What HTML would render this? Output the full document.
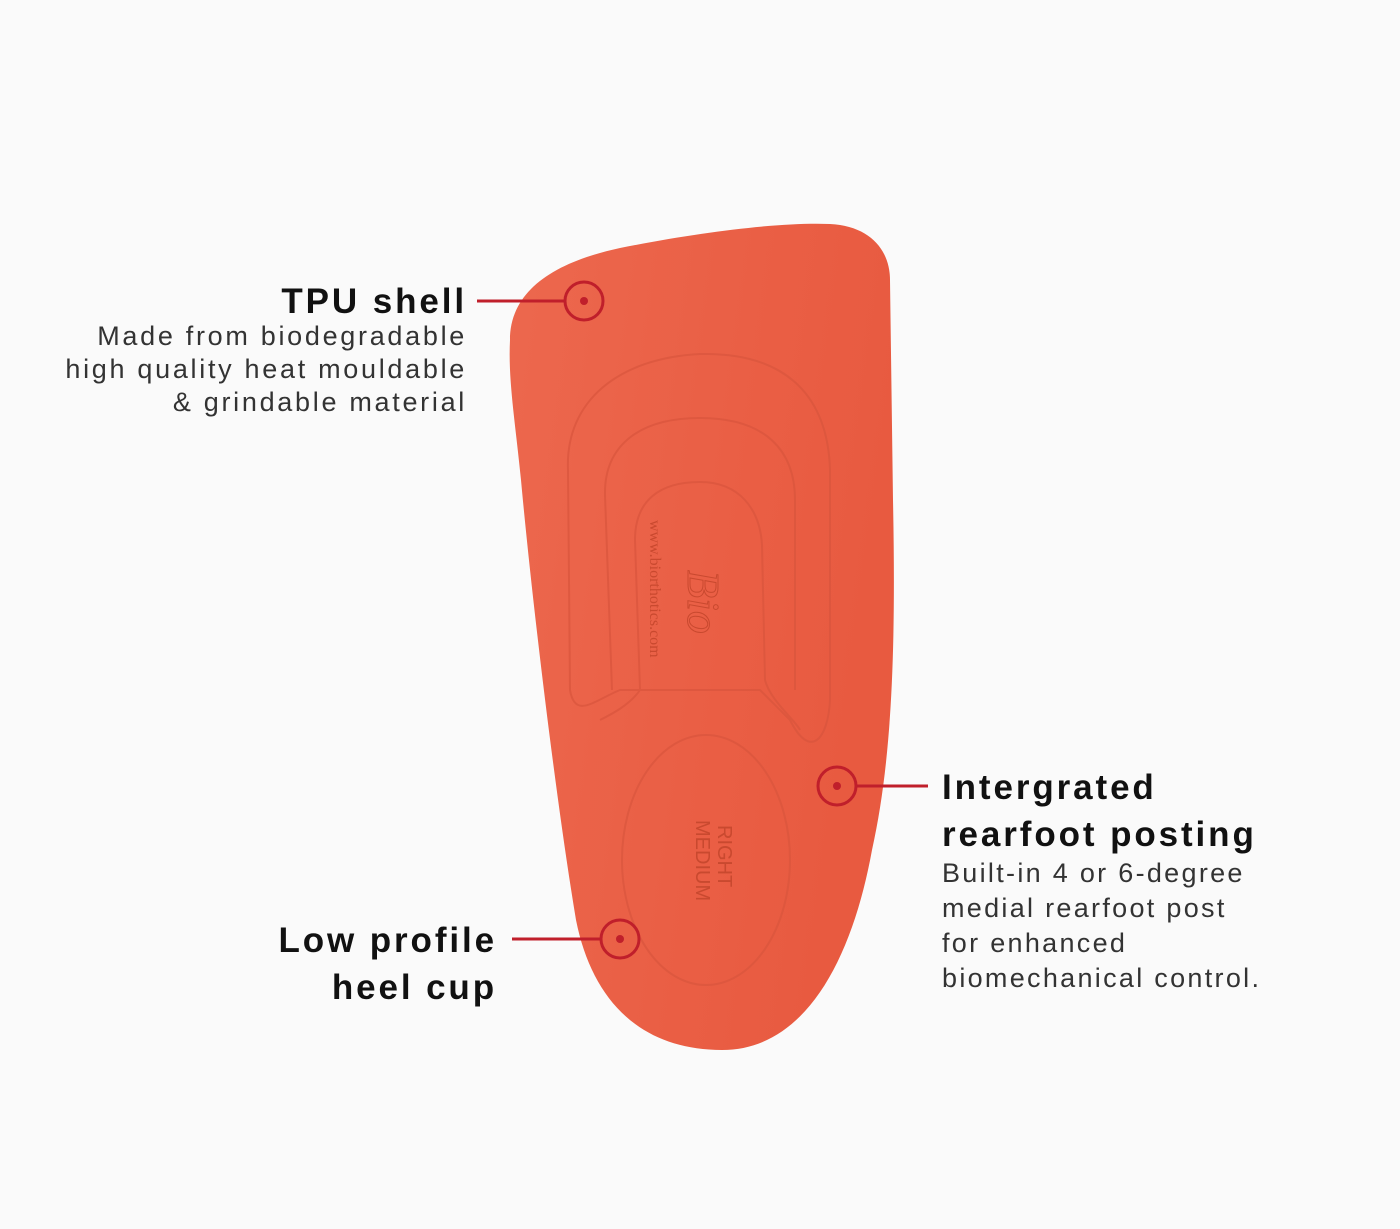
<!DOCTYPE html>
<html><head><meta charset="utf-8"><style>
html,body{margin:0;padding:0;background:#fafafa;}
body{width:1400px;height:1229px;position:relative;overflow:hidden;font-family:"Liberation Sans",sans-serif;}
.t{position:absolute;color:#111;font-weight:bold;font-size:35px;letter-spacing:2.9px;line-height:47px;white-space:nowrap;}
.d{position:absolute;color:#333;font-size:27px;line-height:33px;letter-spacing:2.7px;white-space:nowrap;}
svg{position:absolute;left:0;top:0;}
</style></head><body>
<svg width="1400" height="1229" viewBox="0 0 1400 1229">
<defs>
<linearGradient id="g" x1="0" y1="0" x2="1" y2="0.3">
<stop offset="0" stop-color="#ec684e"/><stop offset="0.6" stop-color="#ea5f45"/><stop offset="1" stop-color="#e85a40"/>
</linearGradient>
</defs>
<path d="M510 340 C510 290,555 262,620 248 C700 232,780 222,830 224 C870 226,890 250,890 280 L893 500 C896 650,892 760,872 850 C852 960,805 1050,722 1050 C640 1050,592 1000,576 920 C556 800,532 600,521 480 C515 420,508 380,510 340 Z" fill="url(#g)"/>
<g fill="none" stroke="#d9553d" stroke-width="2" opacity="0.7">
<path d="M568 470 C565 400,620 358,700 354 C790 352,828 400,830 470 L830 700 C828 740,810 760,790 720 L760 690 L620 690 C595 700,575 720,570 690 Z"/>
<path d="M605 495 C604 445,640 418,700 418 C765 418,795 450,795 500 L795 690 M605 495 L612 690"/>
<path d="M635 540 C635 500,660 482,700 482 C740 482,760 510,762 545 L765 680 C770 700,795 720,800 730 M635 540 L640 690 C630 705,610 715,600 720"/>
<ellipse cx="706" cy="860" rx="84" ry="125"/>
</g>
<text x="0" y="0" transform="translate(650,520) rotate(90)" font-family="Liberation Serif,serif" font-size="16" fill="#c9492f">www.biorthotics.com</text>
<text x="0" y="0" transform="translate(688,570) rotate(90)" font-family="Liberation Serif,serif" font-style="italic" font-size="46" fill="none" stroke="#c9492f" stroke-width="1">Bio</text>
<text x="0" y="0" transform="translate(718,825) rotate(90)" font-size="20" fill="#c9492f">RIGHT</text>
<text x="0" y="0" transform="translate(696,820) rotate(90)" font-size="20" fill="#c9492f">MEDIUM</text>
<g stroke="#c01f2b" stroke-width="3" fill="none">
<line x1="477" y1="301" x2="565" y2="301"/><circle cx="584" cy="301" r="19"/>
<line x1="857" y1="786" x2="928" y2="786"/><circle cx="837" cy="786" r="19"/>
<line x1="512" y1="939" x2="601" y2="939"/><circle cx="620" cy="939" r="19"/>
</g>
<g fill="#c01f2b"><circle cx="584" cy="301" r="4"/><circle cx="837" cy="786" r="4"/><circle cx="620" cy="939" r="4"/></g>
</svg>
<div class="t" style="right:933px;top:278px;text-align:right">TPU shell</div>
<div class="d" style="right:933px;top:320px;text-align:right">Made from biodegradable<br>high quality heat mouldable<br>&amp; grindable material</div>
<div class="t" style="left:942px;top:764px">Intergrated<br>rearfoot posting</div>
<div class="d" style="left:942px;top:856px;line-height:35px;letter-spacing:2.3px">Built-in 4 or 6-degree<br>medial rearfoot post<br>for enhanced<br>biomechanical control.</div>
<div class="t" style="right:903px;top:917px;text-align:right">Low profile<br>heel cup</div>
</body></html>
